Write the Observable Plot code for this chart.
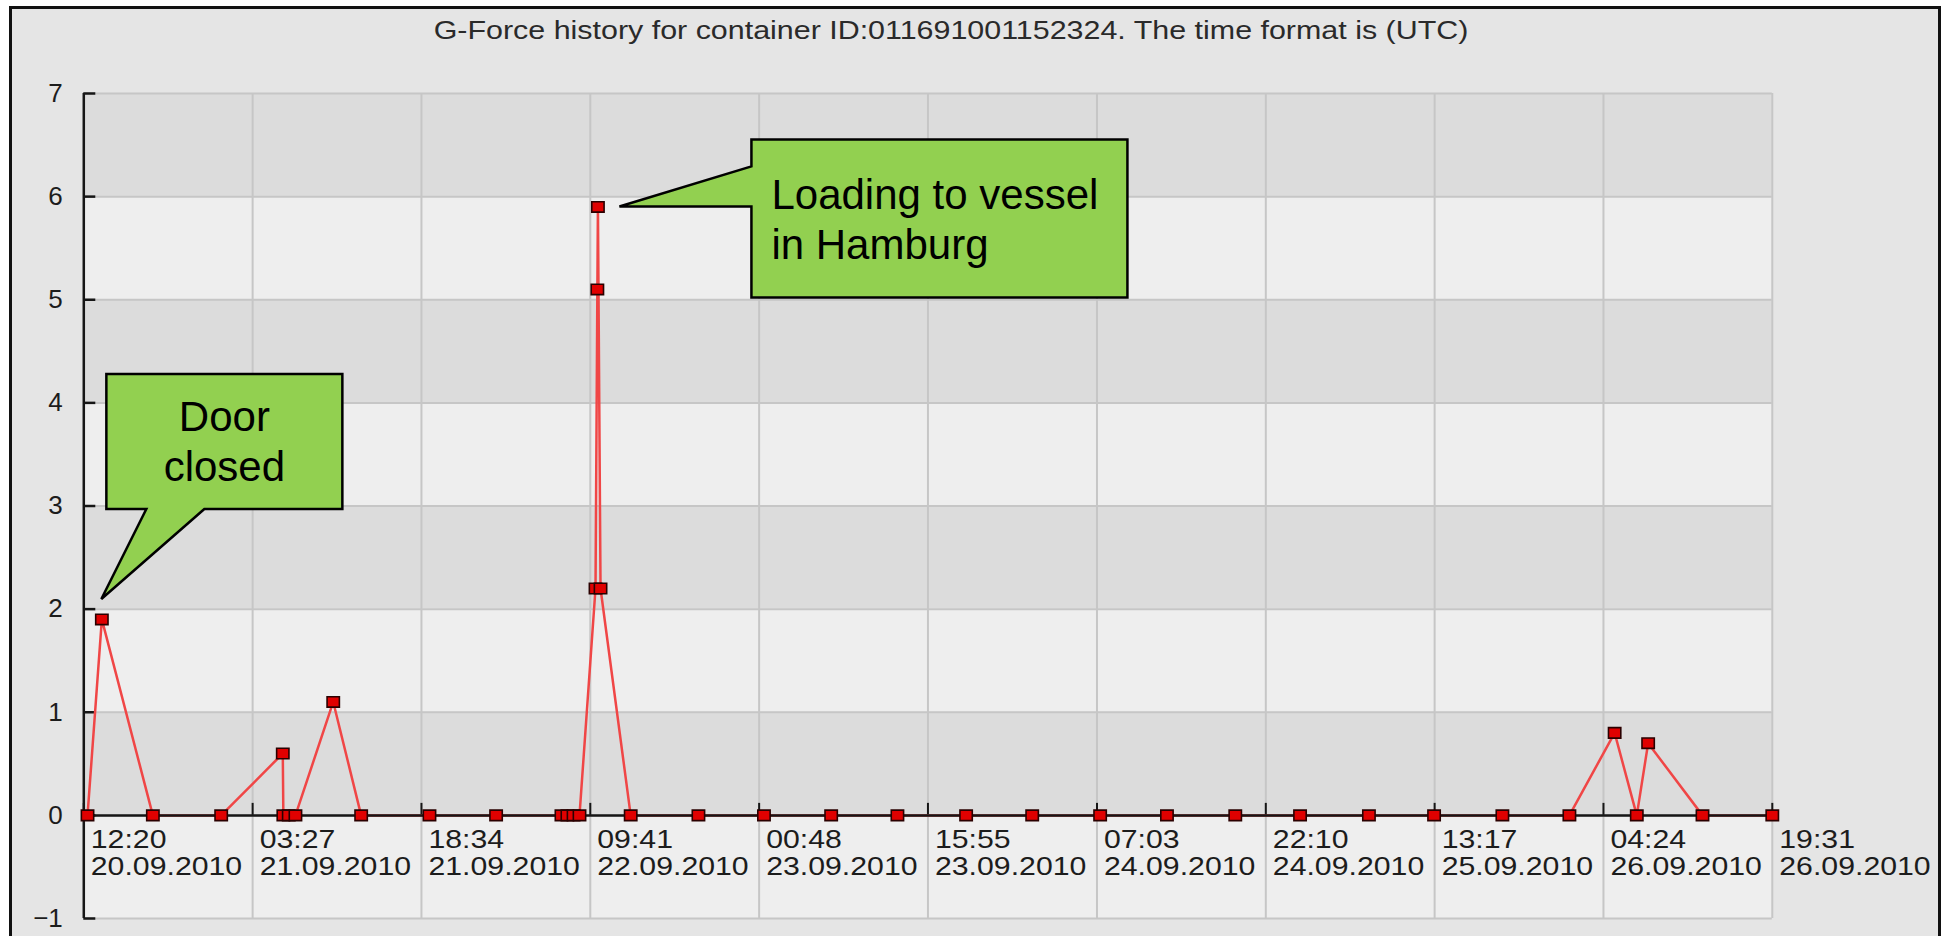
<!DOCTYPE html>
<html>
<head>
<meta charset="utf-8">
<script src="https://cdn.jsdelivr.net/npm/d3@7"></script>
<script src="https://cdn.jsdelivr.net/npm/@observablehq/plot@0.6"></script>
<style>
html, body { margin: 0; padding: 0; background: #ffffff; overflow: hidden; }
#page { position: relative; width: 1945px; height: 936px; font-family: "Liberation Sans", Arial, sans-serif; }
#frame { position: absolute; left: 9px; top: 6px; width: 1932px; height: 950px; box-sizing: border-box; border: 3px solid #111; background: #e5e5e5; }
#title { position: absolute; left: 951px; top: 17px; font-size: 26px; line-height: 26px; color: #2a2a2a; white-space: nowrap; transform: translateX(-50%) scaleX(1.17); }
#chart { position: absolute; left: 0; top: 45px; }
</style>
</head>
<body>
<div id="page">
  <div id="frame"></div>
  <div id="title">G-Force history for container ID:011691001152324. The time format is (UTC)</div>
  <div id="chart"></div>
</div>
<script>
// ---- data (UTC) ----
const times = [
  "2010-09-20 12:40", "2010-09-20 13:57", "2010-09-20 18:31", "2010-09-21 00:38",
  "2010-09-21 06:09", "2010-09-21 06:12", "2010-09-21 06:41", "2010-09-21 07:17",
  "2010-09-21 10:40", "2010-09-21 13:10", "2010-09-21 19:17", "2010-09-22 01:15",
  "2010-09-22 07:06", "2010-09-22 07:38", "2010-09-22 08:11", "2010-09-22 08:43",
  "2010-09-22 10:09", "2010-09-22 10:19", "2010-09-22 10:22", "2010-09-22 10:36",
  "2010-09-22 13:18", "2010-09-22 19:22", "2010-09-23 01:14", "2010-09-23 07:15",
  "2010-09-23 13:11", "2010-09-23 19:20", "2010-09-24 01:15", "2010-09-24 07:20",
  "2010-09-24 13:19", "2010-09-24 19:26", "2010-09-25 01:14", "2010-09-25 07:24",
  "2010-09-25 13:14", "2010-09-25 19:21", "2010-09-26 01:21", "2010-09-26 05:24",
  "2010-09-26 07:23", "2010-09-26 08:24", "2010-09-26 13:16", "2010-09-26 19:31"
];
const gValues = [
  0, 1.9, 0, 0,
  0.6, 0, 0, 0,
  1.1, 0, 0, 0,
  0, 0, 0, 0,
  2.2, 5.1, 5.9, 2.2,
  0, 0, 0, 0,
  0, 0, 0, 0,
  0, 0, 0, 0,
  0, 0, 0, 0.8,
  0, 0.7, 0, 0
];
const xTicks = [
  "2010-09-20 12:20", "2010-09-21 03:27", "2010-09-21 18:34", "2010-09-22 09:41",
  "2010-09-23 00:48", "2010-09-23 15:55", "2010-09-24 07:03", "2010-09-24 22:10",
  "2010-09-25 13:17", "2010-09-26 04:24", "2010-09-26 19:31"
];
const xTimeLabels = ["12:20", "03:27", "18:34", "09:41", "00:48", "15:55", "07:03", "22:10", "13:17", "04:24", "19:31"];
const xDateLabels = ["20.09.2010", "21.09.2010", "21.09.2010", "22.09.2010", "23.09.2010", "23.09.2010",
                     "24.09.2010", "24.09.2010", "25.09.2010", "26.09.2010", "26.09.2010"];
const yTicks = [-1, 0, 1, 2, 3, 4, 5, 6, 7];
const yTickLabels = ["\u22121", "0", "1", "2", "3", "4", "5", "6", "7"];
const calloutLabels = [["Door", "closed"], ["Loading to vessel", "in Hamburg"]];
const calloutPointIndex = [1, 18];

// ---- build ----
const parse = d3.utcParse("%Y-%m-%d %H:%M");
const data = times.map((t, i) => ({t: parse(t), g: gValues[i]}));
const tickData = xTicks.map((t, i) => ({t: parse(t), time: xTimeLabels[i], date: xDateLabels[i]}));
const yData = yTicks.map((v, i) => ({v, label: yTickLabels[i]}));
const xDomain = [tickData[0].t, tickData[tickData.length - 1].t];
const bands = yTicks.slice(0, -1).map((v, i) => ({y1: v, y2: yTicks[i + 1], dark: ((v % 2) + 2) % 2 === 0}));

const DARK = "#dcdcdc", LIGHT = "#eeeeee", GRID = "#c6c6c6", AXIS = "#161616", TEXT = "#1c1c1c";
const rectSymbol = {
  draw(context, size) {
    const r = Math.sqrt(size / Math.PI);
    const w = r * 1.12, h = r * 0.95;
    context.moveTo(-w, -h); context.lineTo(w, -h); context.lineTo(w, h); context.lineTo(-w, h); context.closePath();
  }
};

const chart = Plot.plot({
  width: 1945,
  height: 891,
  marginLeft: 83.3,
  marginRight: 173.2,
  marginTop: 48,
  marginBottom: 18,
  x: {type: "utc", domain: xDomain, axis: null},
  y: {domain: [-1, 7], axis: null},
  style: {background: "none", fontFamily: "'Liberation Sans', Arial, sans-serif", fontSize: "24px", overflow: "visible", color: TEXT},
  marks: [
    Plot.rect(bands.filter(b => b.dark), {x1: () => xDomain[0], x2: () => xDomain[1], y1: "y1", y2: "y2", fill: DARK}),
    Plot.rect(bands.filter(b => !b.dark), {x1: () => xDomain[0], x2: () => xDomain[1], y1: "y1", y2: "y2", fill: LIGHT}),
    Plot.ruleY(yTicks, {stroke: GRID, strokeWidth: 2}),
    Plot.ruleX(tickData, {x: "t", stroke: GRID, strokeWidth: 2}),
    Plot.ruleX([xDomain[0]], {stroke: AXIS, strokeWidth: 2.5}),
    Plot.ruleY(yTicks, {x1: () => xDomain[0], x2: () => xDomain[0], insetRight: -12, stroke: AXIS, strokeWidth: 2.5}),
    Plot.ruleX(tickData, {x: "t", y1: () => 0, y2: () => 0, insetTop: -12, stroke: AXIS, strokeWidth: 2}),
    Plot.text(yData, {y: "v", text: "label", frameAnchor: "left", textAnchor: "end", dx: -21, fontSize: 26, fill: TEXT}),
    Plot.text(tickData, {x: "t", y: () => 0, text: "time", textAnchor: "start", dx: 7, dy: 25, fontSize: 25, fill: TEXT}),
    Plot.text(tickData, {x: "t", y: () => 0, text: "date", textAnchor: "start", dx: 7, dy: 52, fontSize: 25, fill: TEXT}),
    Plot.line(data, {x: "t", y: "g", stroke: "#f04646", strokeWidth: 2.5}),
    Plot.ruleY([0], {stroke: AXIS, strokeWidth: 2.5}),
    Plot.dot(data, {x: "t", y: "g", r: 5.5, symbol: rectSymbol, fill: "#e00000", stroke: "#2a0000", strokeWidth: 1.6})
  ]
});
document.getElementById("chart").append(chart);

// horizontally stretched tick labels, as in the source image
chart.querySelectorAll("text").forEach(t => {
  if (/^\d\d[:.]\d\d/.test(t.textContent)) {
    const L = t.getComputedTextLength();
    t.setAttribute("textLength", (L * 1.21).toFixed(1));
    t.setAttribute("lengthAdjust", "spacingAndGlyphs");
  }
});

// ---- callouts, anchored on data points through Plot's scales ----
const xs = chart.scale("x"), ys = chart.scale("y");
const sx = xs.apply ? v => xs.apply(v) : d3.scaleUtc(xs.domain, xs.range);
const sy = ys.apply ? v => ys.apply(v) : d3.scaleLinear(ys.domain, ys.range);
const svg = d3.select(chart);
const g = svg.append("g").attr("font-family", "'Liberation Sans', Arial, sans-serif").attr("font-size", 42);

function callout(idx, lines, kind) {
  const p = data[idx];
  const px = sx(p.t), py = sy(p.g);
  let path, tx, ty, anchor;
  if (kind === 0) {
    const tip = [px, py - 20];
    const L = px + 5, R = px + 241, T = py - 245, B = py - 110;
    path = `M${L},${T}L${R},${T}L${R},${B}L${px + 103},${B}L${tip[0]},${tip[1]}L${px + 45},${B}L${L},${B}Z`;
    tx = px + 123; ty = py - 187.5; anchor = "middle";
  } else {
    const tip = [px + 22, py];
    const L = px + 154, R = px + 530, T = py - 67, B = py + 91;
    path = `M${L},${T}L${R},${T}L${R},${B}L${L},${B}L${L},${py}L${tip[0]},${tip[1]}L${L},${py - 40}Z`;
    tx = px + 174; ty = py + 3; anchor = "start";
  }
  g.append("path").attr("d", path).attr("fill", "#92d050").attr("stroke", "#000").attr("stroke-width", 2.5).attr("stroke-linejoin", "miter");
  lines.forEach((s, k) => {
    g.append("text").attr("x", tx).attr("y", ty + k * 50).attr("text-anchor", anchor).attr("fill", "#000").text(s);
  });
}
calloutLabels.forEach((lines, k) => callout(calloutPointIndex[k], lines, k));
</script>
</body>
</html>
